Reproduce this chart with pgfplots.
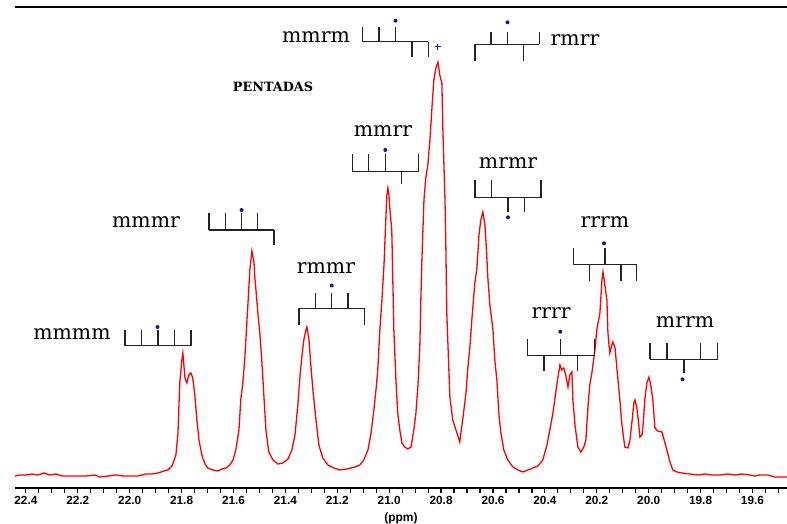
\documentclass[border=0pt]{standalone}
\usepackage{pgfplots}
\pgfplotsset{compat=1.18}
\usepackage{pgfplotstable}
\usepackage{fontspec}
\setmainfont{DejaVu Serif}
\newfontfamily\lsans{Liberation Sans}
\definecolor{specred}{RGB}{255,0,0}
\definecolor{dotblue}{RGB}{25,25,140}
\definecolor{stick}{RGB}{35,35,35}

% 13C spectrum, methyl region: shift (ppm) vs intensity (arb.)
\pgfplotstableread{
ppm h
22.442 12
22.423 13
22.400 13
22.377 14
22.354 13
22.331 15
22.308 13
22.284 14
22.261 12
22.230 12
22.200 12
22.169 12
22.134 13
22.115 11
22.084 12
22.053 13
22.022 12
21.992 12
21.968 12
21.938 14
21.914 14
21.891 15
21.868 17
21.853 18
21.837 22
21.822 33
21.814 55
21.807 105
21.799 128
21.795 135
21.787 110
21.780 105
21.772 113
21.764 115
21.757 110
21.749 93
21.741 68
21.733 48
21.722 33
21.710 24
21.699 20
21.679 18
21.660 17
21.645 19
21.629 20
21.614 23
21.602 28
21.591 38
21.579 58
21.572 88
21.564 105
21.556 131
21.548 168
21.545 181
21.537 218
21.529 237
21.521 226
21.518 211
21.510 188
21.506 175
21.498 153
21.491 128
21.483 93
21.475 58
21.464 36
21.448 28
21.429 24
21.410 25
21.390 29
21.375 38
21.363 53
21.352 83
21.344 111
21.336 133
21.329 148
21.321 158
21.317 161
21.309 148
21.302 123
21.294 98
21.282 68
21.271 43
21.256 30
21.236 23
21.213 20
21.190 18
21.163 19
21.132 21
21.113 23
21.098 28
21.082 38
21.071 53
21.059 78
21.051 98
21.044 118
21.036 158
21.028 188
21.020 223
21.013 268
21.009 293
21.005 300
21.001 293
20.997 278
20.990 258
20.986 208
20.982 158
20.974 108
20.967 75
20.959 58
20.951 45
20.940 41
20.928 39
20.916 41
20.905 58
20.897 75
20.889 103
20.882 141
20.878 188
20.874 228
20.870 258
20.866 288
20.859 310
20.851 323
20.843 348
20.835 381
20.828 408
20.820 420
20.812 426
20.805 413
20.797 405
20.793 358
20.789 323
20.785 288
20.782 248
20.778 175
20.770 118
20.766 91
20.755 68
20.739 55
20.728 46
20.716 70
20.704 95
20.697 120
20.689 141
20.681 170
20.670 205
20.662 220
20.654 253
20.647 268
20.639 276
20.631 263
20.624 233
20.620 211
20.612 183
20.600 158
20.593 128
20.585 108
20.577 73
20.570 56
20.558 38
20.543 28
20.523 21
20.504 18
20.485 16
20.466 18
20.446 20
20.427 22
20.408 28
20.392 43
20.381 58
20.369 75
20.358 96
20.350 110
20.342 123
20.335 118
20.327 120
20.319 112
20.311 101
20.304 113
20.296 116
20.292 88
20.284 63
20.273 41
20.261 36
20.250 41
20.242 48
20.234 81
20.227 103
20.219 115
20.207 138
20.200 158
20.188 175
20.180 208
20.176 216
20.169 203
20.161 188
20.157 155
20.150 135
20.142 143
20.138 146
20.130 141
20.123 121
20.111 88
20.103 63
20.092 41
20.080 40
20.072 48
20.065 65
20.057 85
20.053 88
20.046 81
20.038 63
20.034 51
20.026 53
20.022 61
20.015 88
20.007 105
19.999 111
19.992 103
19.984 88
19.976 60
19.965 57
19.949 56
19.938 46
19.930 38
19.918 26
19.907 18
19.891 16
19.872 15
19.841 14
19.810 13
19.783 14
19.756 13
19.726 13
19.695 14
19.668 13
19.641 14
19.610 13
19.591 12
19.572 13
19.541 13
19.514 11
19.494 11
19.467 11
}\spectrum

% stick diagram of a pentad: left x, right x, bar y, five stick offsets
\newcommand{\pentad}[4]{%
  \draw[stk] (#1,#3) -- (#2,#3);
  \foreach \d [count=\i from 0] in {#4} {
    \draw[stk] ({#1+\i*(#2-#1)/4},#3) -- ++(0,\d);
  }%
}

\begin{document}
\begin{tikzpicture}
\useasboundingbox (0,0) rectangle (393.5pt,262pt);
\begin{axis}[
    at={(7.5pt,18pt)}, anchor=south west,
    scale only axis, width=386pt, height=240.5pt,
    xmin=19.467, xmax=22.442,
    ymin=0, ymax=481,
    x dir=reverse,
    axis x line*=bottom,
    axis y line=none,
    axis line style={line width=0.65pt},
    xtick={19.6,19.8,20.0,20.2,20.4,20.6,20.8,21.0,21.2,21.4,21.6,21.8,22.0,22.2,22.4},
    minor xtick={19.5,19.55,...,22.4},
    tick align=outside,
    major tick length=2.5pt, minor tick length=2.5pt,
    tick style={black, line width=0.6pt},
    xticklabel style={font=\lsans\bfseries\fontsize{5.9}{7}\selectfont,
        anchor=base, yshift=-6pt,
        /pgf/number format/.cd, fixed, fixed zerofill, precision=1,
        assume math mode=true},
    xlabel={(ppm)},
    xlabel style={font=\lsans\bfseries\fontsize{6}{7}\selectfont,
        at={(axis description cs:0.5,0)}, anchor=center, yshift=-15pt},
]
\addplot[specred, line width=0.65pt] table[x=ppm, y=h] {\spectrum};
\draw[line width=1pt] (rel axis cs:0,1) -- (rel axis cs:1,1);
\end{axis}

% annotations in image pixel units (origin top left)
\begin{scope}[x=0.5pt, y=-0.5pt, yshift=262pt,
    stk/.style={stick, line width=0.65pt},
    lab/.style={font=\fontsize{10.2}{12}\selectfont, inner sep=0pt, anchor=center}]
  \pentad{125}{191}{345.7}{-16,-16,-16,-16,-16}
  \fill[dotblue] (157.5,327) circle[radius=1pt];
  \node[lab] at (72,334) {mmmm};

  \pentad{209}{274}{230}{-17,-17,-17,-17,15}
  \fill[dotblue] (241.5,210) circle[radius=1pt];
  \node[lab] at (146,222) {mmmr};

  \pentad{299}{364.3}{308.3}{16.7,-15.3,-15.3,-15.3,16.7}
  \fill[dotblue] (331.7,285.5) circle[radius=1pt];
  \node[lab] at (326,268) {rmmr};

  \pentad{352.3}{418.3}{171.7}{-17.4,-17.4,-17.4,12.3,-17.4}
  \fill[dotblue] (385.3,150) circle[radius=1pt];
  \node[lab] at (383,131) {mmrr};

  \pentad{362.7}{428.3}{41.7}{-14.4,-14.4,-14.4,15.6,15.6}
  \fill[dotblue] (395.5,20.7) circle[radius=1pt];
  \node[lab] at (316,37) {mmrm};
  \draw[dotblue, line width=0.6pt] (434.7,46.7) -- (440.7,46.7) (437.7,43.7) -- (437.7,49.7);

  \pentad{475}{539.3}{44.3}{16.4,-12.6,-12.6,16.4,-12.6}
  \fill[dotblue] (507.5,22.3) circle[radius=1pt];
  \node[lab] at (575,40) {rmrr};

  \pentad{475}{541}{197.7}{-17.7,-17.7,14,14,-17.7}
  \fill[dotblue] (508,217.3) circle[radius=1pt];
  \node[lab] at (508,163) {mrmr};

  \pentad{573.3}{636.7}{264.3}{-16.6,16.4,-16.6,16.4,16.4}
  \fill[dotblue] (604,243.3) circle[radius=1pt];
  \node[lab] at (605,222) {rrrm};

  \pentad{527.3}{594.3}{355.7}{-16.4,15,-16.4,15,-16.4}
  \fill[dotblue] (560.3,331.7) circle[radius=1pt];
  \node[lab] at (551,313) {rrrr};

  \pentad{650}{717.7}{359.3}{-16.6,-16.6,14,-16.6,-16.6}
  \fill[dotblue] (682.5,379.3) circle[radius=1pt];
  \node[lab] at (685,322) {mrrm};

  \node[font=\bfseries\fontsize{6.4}{8}\selectfont, inner sep=0pt] at (273,87) {PENTADAS};
\end{scope}
\end{tikzpicture}
\end{document}
